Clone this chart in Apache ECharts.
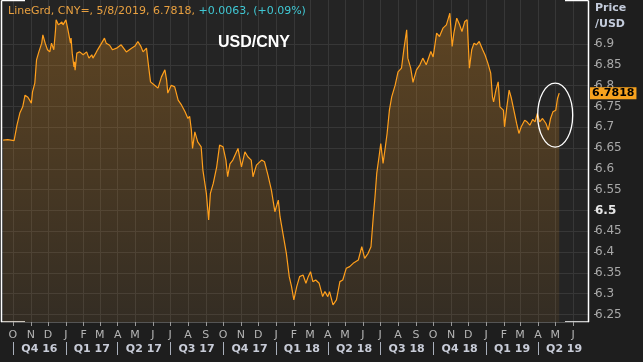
<!DOCTYPE html>
<html><head><meta charset="utf-8">
<script src="https://cdn.jsdelivr.net/npm/echarts@6/dist/echarts.min.js"></script>
<style>html,body{margin:0;padding:0;background:#1e1e1e;}#c{width:643px;height:362px;}</style>
</head><body><div id="c"></div>
<script>
const dates = ['2016-09-14','2016-09-22','2016-10-03','2016-10-04','2016-10-08','2016-10-13','2016-10-18','2016-10-22','2016-10-27','2016-10-30',
'2016-11-02','2016-11-04','2016-11-08','2016-11-11','2016-11-15','2016-11-20','2016-11-22','2016-11-26','2016-11-30','2016-12-04',
'2016-12-07','2016-12-11','2016-12-14','2016-12-15','2016-12-19','2016-12-25','2016-12-27','2017-01-01','2017-01-04','2017-01-06',
'2017-01-09','2017-01-10','2017-01-12','2017-01-15','2017-01-16','2017-01-17','2017-01-20','2017-01-25','2017-01-31','2017-02-06',
'2017-02-10','2017-02-15','2017-02-17','2017-02-22','2017-02-25','2017-03-04','2017-03-09','2017-03-12','2017-03-18','2017-03-23',
'2017-03-30','2017-04-07','2017-04-16','2017-04-25','2017-05-01','2017-05-06','2017-05-11','2017-05-15','2017-05-21','2017-05-24',
'2017-05-28','2017-06-04','2017-06-10','2017-06-16','2017-06-22','2017-06-25','2017-06-27','2017-07-03','2017-07-09','2017-07-15',
'2017-07-21','2017-07-27','2017-08-01','2017-08-04','2017-08-07','2017-08-09','2017-08-13','2017-08-18','2017-08-24','2017-08-27',
'2017-09-02','2017-09-06','2017-09-09','2017-09-14','2017-09-20','2017-09-25','2017-10-01','2017-10-06','2017-10-09','2017-10-13',
'2017-10-18','2017-10-27','2017-11-02','2017-11-08','2017-11-13','2017-11-19','2017-11-22','2017-11-28','2017-12-07','2017-12-12',
'2017-12-18','2017-12-24','2017-12-30','2018-01-05','2018-01-08','2018-01-13','2018-01-19','2018-01-24','2018-01-28','2018-02-01',
'2018-02-06','2018-02-11','2018-02-17','2018-02-22','2018-02-26','2018-03-02','2018-03-06','2018-03-11','2018-03-17','2018-03-23',
'2018-03-27','2018-04-01','2018-04-04','2018-04-10','2018-04-16','2018-04-22','2018-04-27','2018-05-03','2018-05-09','2018-05-15',
'2018-05-24','2018-05-30','2018-06-04','2018-06-10','2018-06-15','2018-06-19','2018-06-22','2018-06-25','2018-06-29','2018-07-02',
'2018-07-06','2018-07-10','2018-07-13','2018-07-17','2018-07-21','2018-07-27','2018-08-01','2018-08-07','2018-08-11','2018-08-16',
'2018-08-18','2018-08-23','2018-08-27','2018-09-02','2018-09-08','2018-09-13','2018-09-19','2018-09-27','2018-10-01','2018-10-07',
'2018-10-12','2018-10-18','2018-10-24','2018-10-30','2018-11-03','2018-11-06','2018-11-11','2018-11-16','2018-11-20','2018-11-25',
'2018-11-29','2018-12-03','2018-12-07','2018-12-11','2018-12-15','2018-12-20','2018-12-26','2018-12-30','2019-01-04','2019-01-09',
'2019-01-12','2019-01-14','2019-01-18','2019-01-22','2019-01-25','2019-01-31','2019-02-02','2019-02-06','2019-02-10','2019-02-14',
'2019-02-17','2019-02-20','2019-02-23','2019-02-27','2019-03-03','2019-03-09','2019-03-13','2019-03-18','2019-03-23','2019-03-27',
'2019-03-31','2019-04-04','2019-04-09','2019-04-15','2019-04-19','2019-04-23','2019-04-27','2019-05-02','2019-05-05','2019-05-08'];
const values = [6.669,6.670,6.668,6.672,6.705,6.734,6.749,6.777,6.772,6.765,
6.758,6.785,6.806,6.862,6.881,6.902,6.922,6.902,6.886,6.881,
6.902,6.886,6.934,6.958,6.946,6.953,6.946,6.958,6.938,6.942,
6.902,6.914,6.878,6.845,6.857,6.837,6.878,6.881,6.874,6.881,
6.866,6.874,6.866,6.878,6.886,6.902,6.914,6.902,6.897,6.886,
6.890,6.898,6.881,6.890,6.895,6.906,6.895,6.881,6.890,6.854,
6.809,6.801,6.794,6.821,6.838,6.813,6.782,6.801,6.797,6.765,
6.753,6.737,6.721,6.726,6.693,6.649,6.689,6.665,6.653,6.597,
6.541,6.477,6.541,6.565,6.605,6.657,6.653,6.621,6.581,6.612,
6.621,6.649,6.605,6.641,6.629,6.621,6.581,6.609,6.621,6.617,
6.585,6.549,6.497,6.525,6.485,6.445,6.397,6.341,6.317,6.285,
6.317,6.341,6.345,6.325,6.341,6.353,6.329,6.333,6.325,6.293,
6.305,6.293,6.305,6.273,6.285,6.329,6.333,6.361,6.365,6.373,
6.381,6.413,6.385,6.397,6.413,6.485,6.533,6.589,6.629,6.661,
6.613,6.653,6.685,6.741,6.773,6.801,6.833,6.842,6.886,6.934,
6.866,6.842,6.808,6.838,6.850,6.866,6.850,6.882,6.869,6.926,
6.918,6.938,6.946,6.974,6.894,6.926,6.962,6.946,6.930,6.954,
6.958,6.842,6.886,6.902,6.898,6.906,6.886,6.874,6.854,6.830,
6.773,6.761,6.789,6.809,6.749,6.741,6.701,6.749,6.789,6.769,
6.765,6.729,6.709,6.685,6.701,6.717,6.713,6.705,6.719,6.713,
6.733,6.713,6.721,6.709,6.693,6.721,6.737,6.741,6.769,6.7818];
const yTicks = [6.25,6.3,6.35,6.4,6.45,6.5,6.55,6.6,6.65,6.7,6.75,6.8,6.85,6.9];
const monthLetters = ['J','F','M','A','M','J','J','A','S','O','N','D'];
const quarterLabels = ['Q4 16','Q1 17','Q2 17','Q3 17','Q4 17','Q1 18','Q2 18','Q3 18','Q4 18','Q1 19','Q2 19'];
const lastPrice = 6.7818;
const headerMain = 'LineGrd, CNY=, 5/8/2019, 6.7818, ';
const headerChange = '+0.0063, (+0.09%)';
const xMinDate = '2016-09-12', xMaxDate = '2019-06-27';
const yMin = 6.232, yMax = 7.0057;

function ts(s){ const p = s.split('-'); return new Date(+p[0], +p[1]-1, +p[2]).getTime(); }
const monthStarts = [];
for (let i = 0; i < 33; i++) monthStarts.push(new Date(2016, 9 + i, 1).getTime());
const quarterStarts = [], quarterMids = [];
for (let i = 0; i < quarterLabels.length; i++) {
  const s = new Date(2016, 9 + 3*i, 1).getTime();
  const e = new Date(2016, 9 + 3*i + 3, 1).getTime();
  quarterStarts.push(s); quarterMids.push((s+e)/2);
}
const seriesData = dates.map((d,i)=>[ts(d), values[i]]);
const gridColor = '#373737';

const chart = echarts.init(document.getElementById('c'), null, {renderer:'canvas'});
chart.setOption({
  animation:false,
  backgroundColor:'#1e1e1e',
  textStyle:{fontFamily:'DejaVu Sans'},
  title:[
    {text:'{a|'+headerMain+'}{b|'+headerChange+'}', left:8, top:6, padding:0,
     textStyle:{fontWeight:'normal', rich:{a:{color:'#e8a040',fontSize:11,fontWeight:'normal',fontFamily:'DejaVu Sans'},b:{color:'#40c8d4',fontSize:11,fontWeight:'normal',fontFamily:'DejaVu Sans'}}}},
    {text:'USD/CNY', left:218, top:35, padding:0, textStyle:{color:'#ffffff',fontSize:16,fontWeight:'bold',fontFamily:'Liberation Sans'}},
    {text:'Price\n/USD', left:595, top:0, padding:0, textStyle:{color:'#c4ccdc',fontSize:11,fontWeight:'bold',lineHeight:16,fontFamily:'DejaVu Sans'}}
  ],
  grid:{left:2, right:55, top:0, bottom:40, show:true, backgroundColor:'#242424', borderWidth:0},
  xAxis:[
    {type:'value', min:ts(xMinDate), max:ts(xMaxDate), position:'bottom',
     axisLine:{show:true, lineStyle:{color:'#555'}},
     axisTick:{show:true, customValues:monthStarts, length:4, lineStyle:{color:'#999'}},
     axisLabel:{customValues:monthStarts, color:'#b4b4b4', fontSize:11, margin:8, hideOverlap:false, showMinLabel:true, showMaxLabel:true,
       formatter:(v)=>monthLetters[new Date(v).getMonth()]},
     splitLine:{show:true, lineStyle:{color:gridColor, width:1}}},
    {type:'value', min:ts(xMinDate), max:ts(xMaxDate), position:'bottom', offset:20,
     axisLine:{show:false},
     axisTick:{show:true, customValues:quarterStarts, length:13, lineStyle:{color:'#aab0bc'}},
     axisLabel:{customValues:quarterMids, color:'#c8ccd8', fontSize:11, fontWeight:'bold', margin:2, hideOverlap:false,
       formatter:(v,i)=>{ const idx = quarterMids.findIndex(q=>Math.abs(q-v)<86400000); return quarterLabels[idx>=0?idx:i]; }},
     splitLine:{show:false}}
  ],
  yAxis:{type:'value', position:'right', min:yMin, max:yMax, offset:6,
    axisLine:{show:false},
    axisTick:{show:true, customValues:yTicks, length:3, lineStyle:{color:'#a0a0a0'}},
    axisLabel:{customValues:yTicks, color:'#a8a8a8', fontSize:12, margin:1,
      formatter:(v)=> Math.abs(v-6.5)<1e-9 ? '{b|6.5}' : String(+(+v).toFixed(2)),
      rich:{b:{fontWeight:'bold', color:'#e6e6e6', fontSize:12}}},
    splitLine:{show:true, lineStyle:{color:gridColor, width:1}}},
  series:[{
    type:'line', data:seriesData, symbol:'none', showSymbol:false,
    lineStyle:{color:'#ff9f1c', width:1.2},
    areaStyle:{origin:'start', color:new echarts.graphic.LinearGradient(0,0,0,1,[
      {offset:0,color:'rgba(255,158,30,0.38)'},{offset:1,color:'rgba(255,158,30,0.10)'}])}
  }]
});

const L = 1.5, R = 588.5, T = 0.5, B = 322;
const w = '#ffffff';
const elements = [
  {type:'line', shape:{x1:L,y1:T,x2:L,y2:B}, style:{stroke:w,lineWidth:1.5}},
  {type:'line', shape:{x1:L,y1:T,x2:25,y2:T}, style:{stroke:w,lineWidth:1.5}},
  {type:'line', shape:{x1:L,y1:B,x2:25,y2:B}, style:{stroke:w,lineWidth:1.5}},
  {type:'line', shape:{x1:R,y1:T,x2:R,y2:B}, style:{stroke:w,lineWidth:1.5}},
  {type:'line', shape:{x1:565,y1:T,x2:R,y2:T}, style:{stroke:w,lineWidth:1.5}},
  {type:'line', shape:{x1:565,y1:B,x2:R,y2:B}, style:{stroke:w,lineWidth:1.5}}
];
const c = chart.convertToPixel({xAxisIndex:0, yAxisIndex:0}, [ts('2019-05-01'), 6.729]);
elements.push({type:'ellipse', shape:{cx:c[0], cy:c[1], rx:17.5, ry:32}, style:{stroke:w, fill:'none', lineWidth:1.3}, z:100});
const py = chart.convertToPixel({yAxisIndex:0}, lastPrice);
elements.push({type:'text', x:590, y:py, z:200,
  style:{text:String(lastPrice), fill:'#000', font:'bold 11px "DejaVu Sans"', verticalAlign:'middle', align:'left',
    backgroundColor:'#f7a21e', padding:[1,2,0,2]}});
chart.setOption({graphic:{elements}});
</script></body></html>
